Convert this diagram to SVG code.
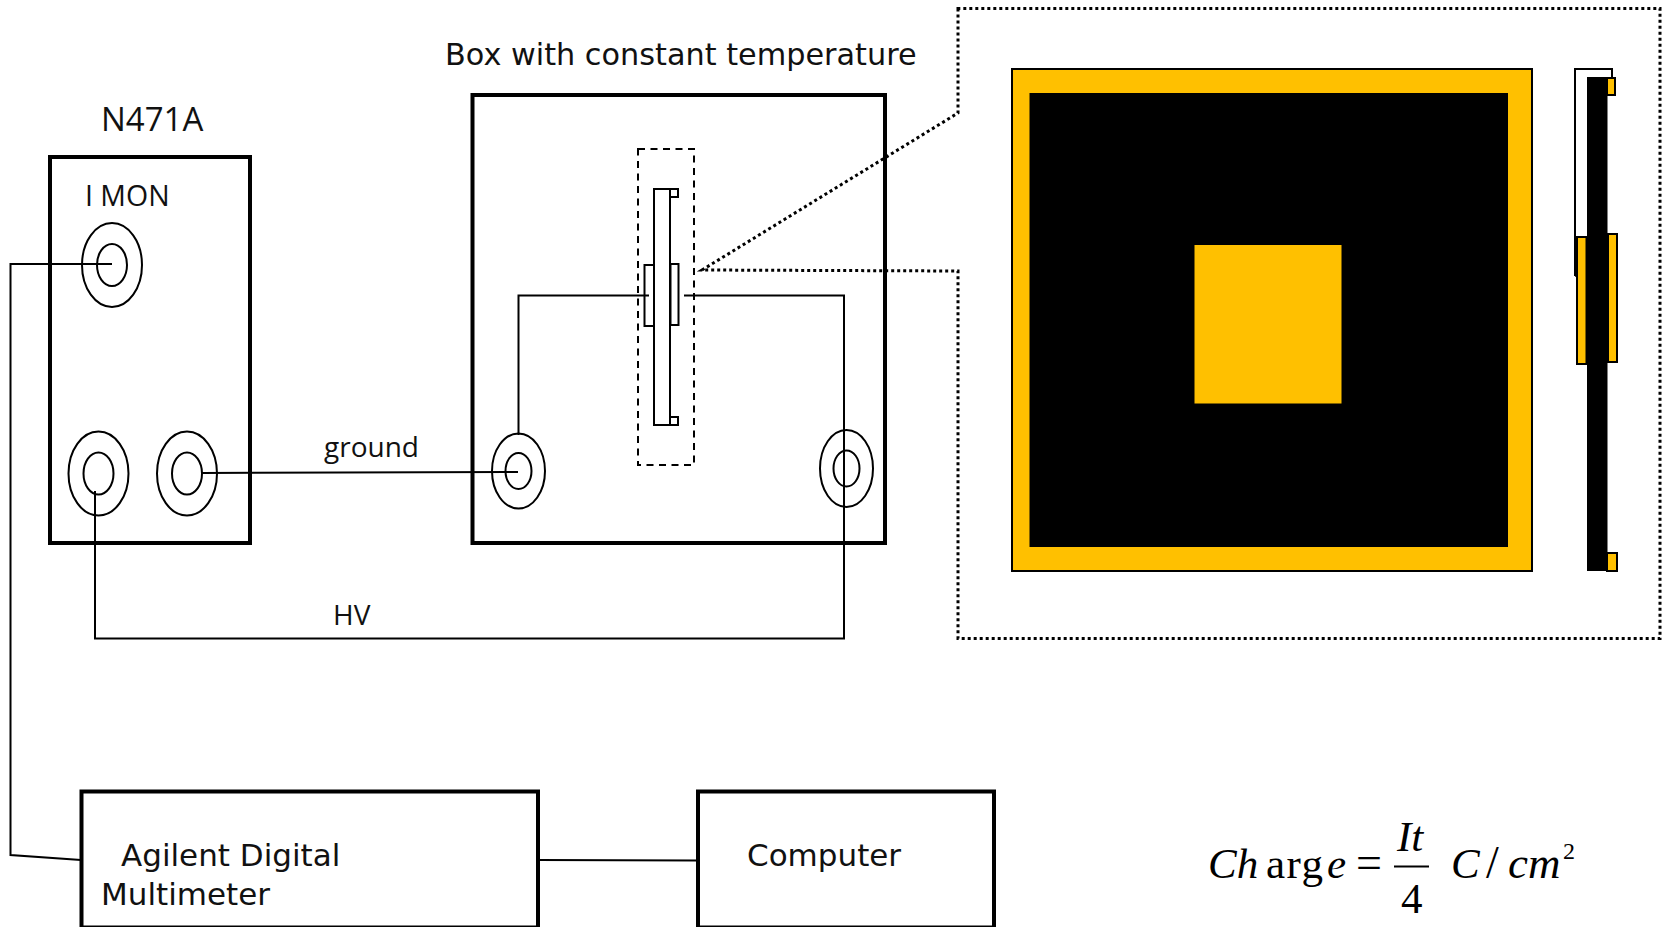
<svg xmlns="http://www.w3.org/2000/svg" width="1665" height="927" viewBox="0 0 1665 927">
<style>
.box{fill:#fff;stroke:#000;stroke-width:4}
.c{fill:none;stroke:#000;stroke-width:2}
.w{fill:none;stroke:#000;stroke-width:2}
.e{fill:#fff;stroke:#000;stroke-width:2}
.g{fill:#ffc000;stroke:#000;stroke-width:2}
.d{fill:none;stroke:#000;stroke-width:3;stroke-dasharray:3 3}
.t{font-family:"DejaVu Sans",sans-serif;font-size:31px;fill:#111}
.s{font-family:"Open Sans","DejaVu Sans",sans-serif;font-size:28px;fill:#111}
.m{font-family:"Liberation Serif",serif;font-size:43px;fill:#000}
.i{font-style:italic}
</style>
<rect width="1665" height="927" fill="#fff"/>
<g id="n471a">
<rect class="box" x="50" y="157" width="200" height="386"/>
<ellipse class="c" cx="112" cy="265" rx="30" ry="42"/><ellipse class="c" cx="112" cy="265" rx="15" ry="21"/>
<ellipse class="c" cx="98.500" cy="473.500" rx="30" ry="42"/><ellipse class="c" cx="98.500" cy="473.500" rx="15" ry="21"/>
<ellipse class="c" cx="187" cy="473.500" rx="30" ry="42"/><ellipse class="c" cx="187" cy="473.500" rx="15" ry="21"/>
<text class="s" x="101" y="131" style="font-size:33px">N471A</text>
<text class="s" x="85" y="206" style="font-size:28.500px">I MON</text>
</g>
<g id="temperature-box">
<rect class="box" x="472.500" y="95" width="412.500" height="448"/>
<ellipse class="c" cx="518.500" cy="471" rx="26.500" ry="37.500"/><ellipse class="c" cx="518.500" cy="471" rx="13" ry="18"/>
<ellipse class="c" cx="846.500" cy="468.500" rx="26.500" ry="38.500"/><ellipse class="c" cx="846.500" cy="468.500" rx="13" ry="18"/>
<rect x="638" y="149" width="56" height="316" fill="none" stroke="#000" stroke-width="2" stroke-dasharray="7 5.500"/>
<rect class="e" x="654" y="189" width="16" height="236"/>
<rect class="e" x="670" y="189" width="8" height="8"/>
<rect class="e" x="670" y="417" width="8" height="8"/>
<rect class="e" x="644.500" y="265" width="9.500" height="61"/>
<rect class="e" x="670.500" y="264" width="8" height="61"/>
<text class="t" x="445" y="65" style="font-size:30.300px">Box with constant temperature</text>
</g>
<g id="connectors">
<path class="w" d="M112 264H10.500V855L81 860"/>
<path class="w" d="M202 473L518 472"/>
<path class="w" d="M518.500 435V295.500H649"/>
<path class="w" d="M684 295.500H844V638.500H95V491"/>
<path class="w" d="M538 860L698 860.500"/>
<path class="d" d="M958 8.500V113L702 270L958 271V638.500H1660V8.500Z"/>
<text class="s" x="324" y="457">ground</text>
<text class="s" x="333" y="625">HV</text>
</g>
<g id="detector-front">
<rect class="g" x="1012" y="69" width="520" height="502"/>
<rect x="1029.500" y="93" width="478.500" height="454" fill="#000"/>
<rect x="1194.500" y="245" width="147" height="158.500" fill="#ffc000"/>
</g>
<g id="detector-side">
<path d="M1612 78V69H1575V276" fill="none" stroke="#000" stroke-width="2"/>
<path d="M1575 276H1582" stroke="#000" stroke-width="1.500"/>
<rect class="g" x="1577" y="237" width="9.500" height="127"/>
<rect class="g" x="1608" y="234" width="9" height="128"/>
<rect class="g" x="1607" y="78" width="8" height="17"/>
<rect class="g" x="1607" y="553" width="10" height="18"/>
<rect x="1587" y="77" width="20.500" height="494" fill="#000"/>
</g>
<g id="multimeter">
<rect class="box" x="81.500" y="791.500" width="456.500" height="136"/>
<text class="t" x="121" y="866">Agilent Digital</text>
<text class="t" x="101" y="905">Multimeter</text>
</g>
<g id="computer">
<rect class="box" x="698" y="791.500" width="296" height="136"/>
<text class="t" x="747" y="866">Computer</text>
</g>
<g id="formula">
<text class="m i" x="1208" y="878">Ch</text>
<text class="m" x="1266" y="878" textLength="57">arg</text>
<text class="m i" x="1327" y="878">e</text>
<text class="m" x="1356" y="878" style="font-size:46px">=</text>
<text class="m i" x="1397" y="851">It</text>
<path d="M1394 866.500H1429" stroke="#000" stroke-width="2"/>
<text class="m" x="1401" y="913">4</text>
<text class="m i" x="1451" y="878">C</text>
<text class="m" x="1486" y="878" style="font-size:46px">/</text>
<text class="m i" x="1508" y="878" style="font-size:45px">cm</text>
<text class="m" x="1563" y="859" style="font-size:24px">2</text>
</g>
</svg>
